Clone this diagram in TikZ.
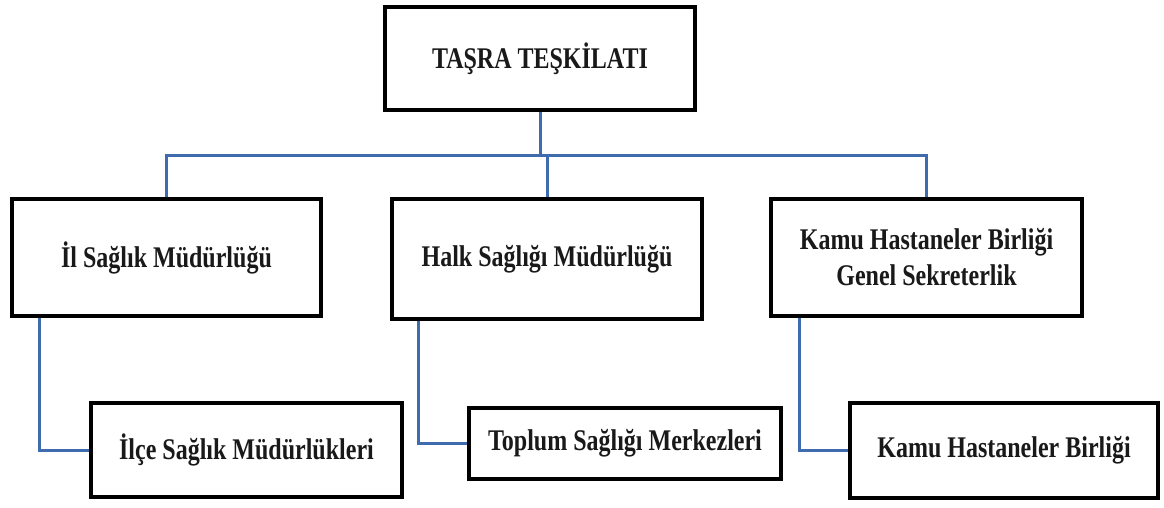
\documentclass[tikz,border=0pt]{standalone}
\usepackage{fontspec}
\setmainfont[FakeStretch=0.8]{Liberation Serif}
\usetikzlibrary{backgrounds}
\definecolor{linkblue}{RGB}{62,108,174}
\begin{document}
\begin{tikzpicture}[x=1pt,y=-1pt,
  box/.style={draw=black,line width=4.8pt,fill=white,rectangle,inner sep=0pt,
    align=center,font=\fontsize{30}{36}\selectfont\bfseries,text=black!90},
  link/.style={draw=linkblue,line width=3pt}]
\useasboundingbox (0,0) rectangle (1164,507);
\node[box,minimum width=310pt,minimum height=103pt] (top) at (540,58.5) {TAŞRA TEŞKİLATI};
\node[box,minimum width=309pt,minimum height=117pt] (b1) at (166.5,257.5) {İl Sağlık Müdürlüğü};
\node[box,minimum width=310pt,minimum height=120pt] (b2) at (547,259) {Halk Sağlığı Müdürlüğü};
\node[box,minimum width=311pt,minimum height=117pt] (b3) at (926.5,257.5) {Kamu Hastaneler Birliği\\Genel Sekreterlik};
\node[box,minimum width=311pt,minimum height=94pt] (b4) at (246.5,450) {İlçe Sağlık Müdürlükleri};
\node[box,minimum width=312pt,minimum height=71pt] (b5) at (625,443.5) {Toplum Sağlığı Merkezleri};
\node[box,minimum width=308pt,minimum height=95pt] (b6) at (1004,450.5) {Kamu Hastaneler Birliği};
\coordinate (bus) at (0,155);
\begin{scope}[on background layer]
  \fill[white] (0,0) rectangle (1164,507);
  \draw[link] (top.south) -- (top.south |- bus);
  \draw[link] (b1.north) |- (b3.north |- bus) -- (b3.north);
  \draw[link] (b2.north) -- (b2.north |- bus);
  \draw[link] ([xshift=30pt]b1.south west) |- (b4.west);
  \draw[link] ([xshift=29pt]b2.south west) |- (b5.west);
  \draw[link] ([xshift=31pt]b3.south west) |- (b6.west);
\end{scope}
\end{tikzpicture}
\end{document}
